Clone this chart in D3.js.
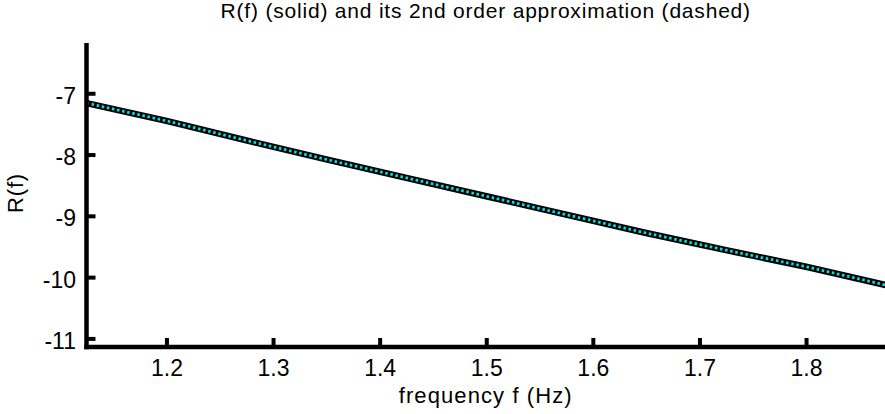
<!DOCTYPE html>
<html>
<head>
<meta charset="utf-8">
<script src="https://cdn.jsdelivr.net/npm/d3@7"></script>
<style>
  html, body { margin: 0; padding: 0; background: #fff; }
  svg { display: block; }
  text { font-family: "Liberation Sans", Arial, sans-serif; fill: #000; }
</style>
</head>
<body>
<svg id="chart" width="885" height="414"></svg>
<script>
// ---- data ----
const frequency = [1.125, 1.2, 1.275, 1.35, 1.425, 1.5, 1.575, 1.65, 1.725, 1.8, 1.875];
const rSolid    = [-7.16, -7.45, -7.77, -8.08, -8.38, -8.68, -8.98, -9.28, -9.56, -9.83, -10.13];
const rApprox   = [-7.16, -7.45, -7.77, -8.08, -8.38, -8.68, -8.98, -9.28, -9.56, -9.83, -10.13];
const xTicks = [1.2, 1.3, 1.4, 1.5, 1.6, 1.7, 1.8];
const yTicks = [-7, -8, -9, -10, -11];
const titleText = "R(f) (solid) and its 2nd order approximation (dashed)";
const xLabelText = "frequency f (Hz)";
const yLabelText = "R(f)";

// ---- layout ----
const W = 885, H = 414;
const mLeft = 86.5, mRight = 886, mTop = 43, mBottom = 347;

const svg = d3.select("#chart");
const x = d3.scaleLinear().domain([1.125, 1.875]).range([mLeft, mRight]);
const y = d3.scaleLinear().domain([-11.14, -6.18]).range([mBottom, mTop]);

svg.append("defs").append("clipPath").attr("id", "clip")
  .append("rect").attr("x", mLeft).attr("y", mTop).attr("width", mRight - mLeft).attr("height", mBottom - mTop);

const pts = (vals) => frequency.map((f, i) => [f, vals[i]]);
const line = d3.line().x(d => x(d[0])).y(d => y(d[1]));

const g = svg.append("g").attr("clip-path", "url(#clip)");
g.append("path").datum(pts(rSolid)).attr("d", line)
  .attr("fill", "none").attr("stroke", "#000").attr("stroke-width", 6.5).attr("stroke-linejoin", "round");
g.append("path").datum(pts(rApprox)).attr("d", line)
  .attr("fill", "none").attr("stroke", "#00e0e0").attr("stroke-width", 2.8)
  .attr("stroke-dasharray", "2.6,2.6");

// axes (inward ticks)
const tfs = 23;
const xAxis = d3.axisBottom(x).tickValues(xTicks).tickSizeInner(-9).tickSizeOuter(0)
  .tickPadding(13).tickFormat(d => d.toFixed(1));
const gx = svg.append("g").attr("transform", `translate(0,${mBottom})`).call(xAxis);
gx.select(".domain").remove();
gx.selectAll(".tick line").attr("stroke", "#000").attr("stroke-width", 4);
gx.selectAll(".tick text").attr("font-size", tfs)
  .attr("font-family", "Liberation Sans, Arial, sans-serif").attr("fill", "#000");

const yAxis = d3.axisLeft(y).tickValues(yTicks).tickSizeInner(-9).tickSizeOuter(0)
  .tickPadding(10.5).tickFormat(d => String(d));
const gy = svg.append("g").attr("transform", `translate(${mLeft},0)`).call(yAxis);
gy.select(".domain").remove();
gy.selectAll(".tick line").attr("stroke", "#000").attr("stroke-width", 4);
gy.selectAll(".tick text").attr("font-size", tfs)
  .attr("font-family", "Liberation Sans, Arial, sans-serif").attr("fill", "#000")
  .attr("dy", "0.43em");

// axis lines
svg.append("line").attr("x1", mLeft).attr("x2", mLeft).attr("y1", mTop).attr("y2", mBottom + 2.25)
  .attr("stroke", "#000").attr("stroke-width", 4.5);
svg.append("line").attr("x1", mLeft - 2.25).attr("x2", mRight).attr("y1", mBottom).attr("y2", mBottom)
  .attr("stroke", "#000").attr("stroke-width", 4.5);

// labels
svg.append("text").attr("x", (mLeft + W) / 2).attr("y", 18).attr("text-anchor", "middle")
  .attr("font-size", 21).attr("letter-spacing", 0.8).text(titleText);
svg.append("text").attr("x", (mLeft + W) / 2).attr("y", 403).attr("text-anchor", "middle")
  .attr("font-size", 22).attr("letter-spacing", 1.1).text(xLabelText);
svg.append("text").attr("transform", `translate(23,${(mTop + mBottom) / 2 - 2}) rotate(-90)`)
  .attr("text-anchor", "middle").attr("font-size", 22).attr("letter-spacing", 0.8).text(yLabelText);
</script>
</body>
</html>
